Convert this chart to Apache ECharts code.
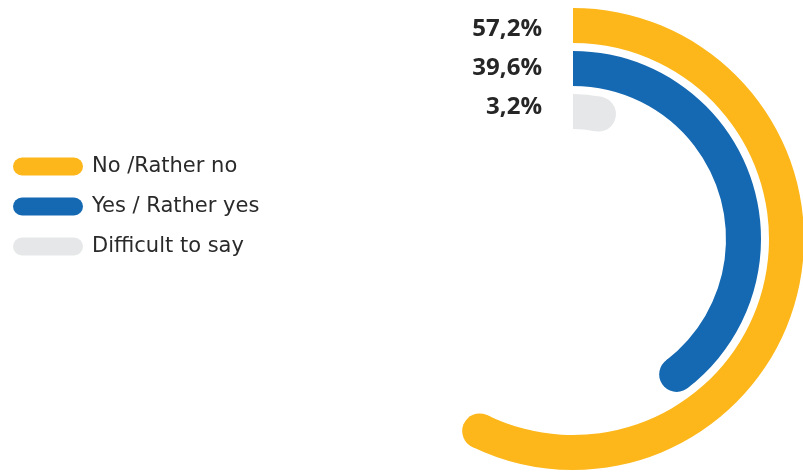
<!DOCTYPE html>
<html>
<head>
<meta charset="utf-8">
<script src="https://cdn.jsdelivr.net/npm/echarts@6/dist/echarts.min.js"></script>
<style>
html,body{margin:0;padding:0;background:#fff;}
#chart{width:803px;height:472px;}
</style>
</head>
<body>
<div id="chart"></div>
<script>
// Data (radius categories from inner ring to outer ring)
const categories = ['Difficult to say', 'Yes / Rather yes', 'No /Rather no'];
const values = [3.2, 39.6, 57.2];
const labelTexts = ['3,2%', '39,6%', '57,2%'];
const legendOrder = ['No /Rather no', 'Yes / Rather yes', 'Difficult to say'];

const colors = ['#E6E7E8', '#1569B3', '#FDB71A'];
const LABEL_SHIFT = [-4, 0, 4];
const BAR_RATIO = 35 / 43;

function renderItem(params, api) {
  const cat = api.value(0);
  const val = api.value(1);
  const cs = params.coordSys;
  const cx = cs.cx, cy = cs.cy;
  const p0 = api.coord([cat, 0]);
  const p1 = api.coord([cat, val]);
  const rMid = Math.hypot(p0[0] - cx, p0[1] - cy);
  const band = api.size([1, 0], [cat, 0])[0];
  const half = band * BAR_RATIO / 2;
  const a0 = Math.atan2(p0[1] - cy, p0[0] - cx);
  let a1 = Math.atan2(p1[1] - cy, p1[0] - cx);
  while (a1 < a0) a1 += Math.PI * 2;
  const color = api.visual('color');
  return {
    type: 'group',
    children: [
      {
        type: 'sector',
        shape: { cx: cx, cy: cy, r0: rMid - half, r: rMid + half, startAngle: a0, endAngle: a1, clockwise: true },
        style: { fill: color }
      },
      {
        type: 'circle',
        shape: { cx: cx + rMid * Math.cos(a1), cy: cy + rMid * Math.sin(a1), r: half },
        style: { fill: color }
      },
      {
        type: 'text',
        x: cx - 31,
        y: p0[1] + LABEL_SHIFT[cat],
        style: {
          text: labelTexts[cat],
          align: 'right', textAlign: 'right',
          verticalAlign: 'middle', textVerticalAlign: 'middle',
          fill: '#262626',
          font: 'bold 24px "Open Sans"'
        }
      }
    ]
  };
}

const series = categories.map(function (name, i) {
  return {
    type: 'custom',
    name: name,
    coordinateSystem: 'polar',
    color: colors[i],
    renderItem: renderItem,
    encode: { radius: 0, angle: 1 },
    data: [[i, values[i]]]
  };
});

const chart = echarts.init(document.getElementById('chart'), null, { renderer: 'canvas' });
chart.setOption({
  animation: false,
  polar: { center: [573, 239], radius: [106, 235] },
  angleAxis: { type: 'value', min: 0, max: 100, startAngle: 90, clockwise: true, show: false },
  radiusAxis: { type: 'category', data: categories, show: false },
  legend: {
    orient: 'vertical',
    left: 13,
    top: 156,
    padding: 0,
    data: legendOrder,
    icon: 'path://M9,0 H61 A9,9 0 0 1 61,18 H9 A9,9 0 0 1 9,0 Z',
    itemWidth: 70,
    itemHeight: 18,
    itemGap: 19,
    selectedMode: false,
    textStyle: { fontFamily: 'DejaVu Sans', fontSize: 21, color: '#2a2a2a', lineHeight: 20, padding: [0, 0, 0, 4] }
  },
  series: series
});
</script>
</body>
</html>
